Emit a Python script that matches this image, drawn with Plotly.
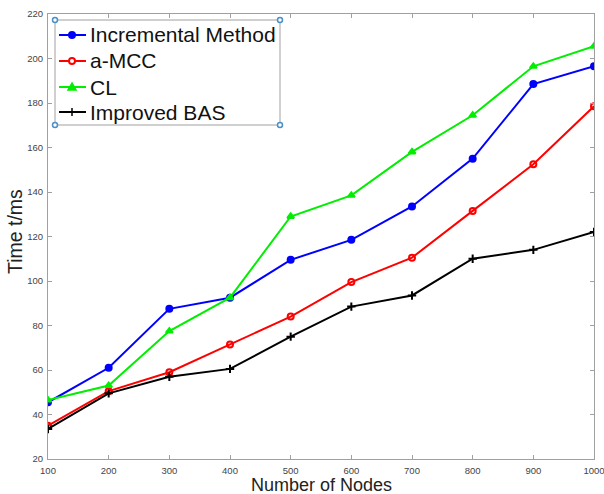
import plotly.graph_objects as go

nodes = [100, 200, 300, 400, 500, 600, 700, 800, 900, 1000]
incremental = [45.5, 61, 87.5, 92.5, 109.5, 118.5, 133.5, 155, 188.5, 196.5]
amcc = [35, 50.5, 59, 71.5, 84, 99.5, 110.5, 131.5, 152.5, 178.5]
cl = [46.5, 53, 77.5, 92.5, 129, 138.5, 158, 174.5, 196.5, 205.5]
bas = [33.5, 49.5, 57, 60.5, 75, 88.5, 93.5, 110, 114, 122]

x_ticks = [100, 200, 300, 400, 500, 600, 700, 800, 900, 1000]
y_ticks = [20, 40, 60, 80, 100, 120, 140, 160, 180, 200, 220]

series_names = ["Incremental Method", "a-MCC", "CL", "Improved BAS"]
series_vals = [incremental, amcc, cl, bas]
series_colors = ["#0000ff", "#ff0000", "#00ee00", "#000000"]
series_symbols = ["circle", "circle-open", "triangle-up", "cross-thin"]

W, H = 604, 494
ML, MR, MT, MB = 48, 10, 14, 35
PW, PH = W - ML - MR, H - MT - MB


def px_to_paper(px, py):
    return (px - ML) / PW, (H - MB - py) / PH


fig = go.Figure()
for name, vals, color, sym in zip(series_names, series_vals, series_colors, series_symbols):
    fig.add_trace(go.Scatter(
        x=nodes, y=vals, name=name, mode="lines+markers", showlegend=False,
        line=dict(color=color, width=2),
        marker=dict(symbol=sym, size=6, color=color,
                    line=dict(color=color, width=2)),
    ))

# ---- manual legend (MATLAB-style, tight rows) ----
box_l, box_r, box_t, box_b = 55, 280, 20, 125
x0, y0 = px_to_paper(box_l, box_t)
x1, y1 = px_to_paper(box_r, box_b)
fig.add_shape(type="rect", xref="paper", yref="paper", x0=x0, x1=x1, y0=y1, y1=y0,
              line=dict(color="#a0a0a0", width=1), fillcolor="white", layer="below")


def key_marker(sym, color, cxp, cyp):
    r = 3.0
    if sym in ("circle", "circle-open"):
        a, b = px_to_paper(cxp - r, cyp + r)
        c, d = px_to_paper(cxp + r, cyp - r)
        fig.add_shape(type="circle", xref="paper", yref="paper", x0=a, x1=c, y0=b, y1=d,
                      line=dict(color=color, width=2),
                      fillcolor=color if sym == "circle" else "white", layer="above")
    elif sym == "triangle-up":
        pts = [px_to_paper(cxp, cyp - 4), px_to_paper(cxp - 4, cyp + 3),
               px_to_paper(cxp + 4, cyp + 3)]
        path = "M {} {} L {} {} L {} {} Z".format(pts[0][0], pts[0][1], pts[1][0],
                                                  pts[1][1], pts[2][0], pts[2][1])
        fig.add_shape(type="path", xref="paper", yref="paper", path=path,
                      line=dict(color=color, width=1.5), fillcolor=color, layer="above")
    else:
        for (ax, ay, bx, by) in [(cxp - 4, cyp, cxp + 4, cyp), (cxp, cyp - 4, cxp, cyp + 4)]:
            p, q = px_to_paper(ax, ay)
            s, t = px_to_paper(bx, by)
            fig.add_shape(type="line", xref="paper", yref="paper", x0=p, x1=s, y0=q, y1=t,
                          line=dict(color=color, width=1.5), layer="above")


row_y = [35, 61, 87, 112]
key_x0, key_x1, key_xm, text_x = 59, 86, 72, 88
for name, color, sym, ry in zip(series_names, series_colors, series_symbols, row_y):
    a0, b = px_to_paper(key_x0, ry)
    a1, _ = px_to_paper(key_x1, ry)
    at, _ = px_to_paper(text_x, ry)
    fig.add_shape(type="line", xref="paper", yref="paper", x0=a0, x1=a1, y0=b, y1=b,
                  line=dict(color=color, width=2), layer="above")
    key_marker(sym, color, key_xm, ry)
    fig.add_annotation(xref="paper", yref="paper", x=at, y=b, text=name,
                       showarrow=False, xanchor="left", yanchor="middle",
                       font=dict(size=21, color="#111111"))

# selection handles on legend box corners
for (hx, hy) in [(box_l, box_t), (box_r, box_t), (box_l, box_b), (box_r, box_b)]:
    cx, cy = px_to_paper(hx, hy)
    fig.add_shape(type="circle", xref="paper", yref="paper",
                  x0=cx - 2.5 / PW, x1=cx + 2.5 / PW, y0=cy - 2.5 / PH, y1=cy + 2.5 / PH,
                  line=dict(color="#4a90c8", width=1.5), fillcolor="white", layer="above")

axis_common = dict(
    showgrid=False, zeroline=False, showline=True, linecolor="#a0a0a0",
    linewidth=1, mirror="ticks", ticks="inside", ticklen=4,
    tickcolor="#a0a0a0", tickfont=dict(size=9.5, color="#444444"),
)

# axis titles as annotations
tx, ty = px_to_paper(321, 485)
fig.add_annotation(xref="paper", yref="paper", x=tx, y=ty, text="Number of Nodes",
                   showarrow=False, xanchor="center", yanchor="middle",
                   font=dict(size=18, color="#222222"))
yx, yy = px_to_paper(15, 232)
fig.add_annotation(xref="paper", yref="paper", x=yx, y=yy, text="Time t/ms",
                   showarrow=False, xanchor="center", yanchor="middle", textangle=-90,
                   font=dict(size=19.5, color="#222222"))

fig.update_layout(
    width=W, height=H,
    margin=dict(l=ML, r=MR, t=MT, b=MB, autoexpand=False),
    paper_bgcolor="white", plot_bgcolor="white",
    font=dict(family="Liberation Sans, Arial, sans-serif", color="#222222"),
    xaxis=dict(range=[100, 1000], tickvals=x_ticks, ticklabelstandoff=3,
               ticklabeloverflow="allow", **axis_common),
    yaxis=dict(range=[20, 220], tickvals=y_ticks, ticklabelstandoff=2,
               ticklabeloverflow="allow", **axis_common),
    showlegend=False,
)

fig.write_html("out.html")
